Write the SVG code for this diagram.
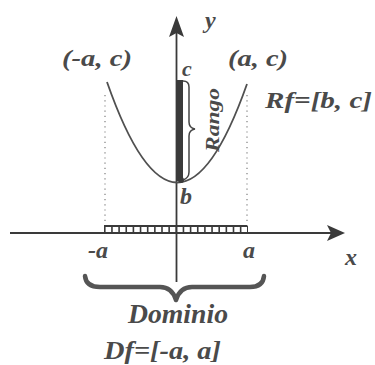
<svg xmlns="http://www.w3.org/2000/svg" width="375" height="365" viewBox="0 0 375 365">
<style>
.t{font-family:"Liberation Serif","Times New Roman",serif;font-style:italic;font-weight:bold;fill:#4a4a4a}
.ax{stroke:#3a3a3a;stroke-width:1.8;fill:none}
.dot{stroke:#888;stroke-width:1.3;stroke-dasharray:1.2 4;fill:none}
</style>
<rect width="375" height="365" fill="#ffffff"/>
<g id="connectors">
<line class="ax" x1="10" y1="233" x2="332" y2="233"/>
<polygon points="345,233 327,225 331,233 327,241" fill="#3a3a3a"/>
<line class="ax" x1="176.5" y1="282" x2="176.5" y2="32"/>
<polygon points="176.5,16 169,37 176.5,33 184,37" fill="#3a3a3a"/>
</g>
<g id="guides">
<line class="dot" x1="105" y1="95" x2="105" y2="226"/>
<line class="dot" x1="247" y1="95" x2="247" y2="226"/>
</g>
<g id="parabola">
<path d="M107,82 Q177,282 247,84" fill="none" stroke="#505050" stroke-width="1.8"/>
</g>
<g id="range">
<rect x="177" y="80" width="6" height="101" fill="#3a3a3a"/>
<circle cx="181" cy="180" r="3" fill="#3a3a3a"/>
<path d="M183,81 Q189,81 189,87 L189,122 Q189,128 195,129 Q189,130 189,136 L189,172 Q189,178 183,180" fill="none" stroke="#444" stroke-width="1.5"/>
</g>
<g id="domain">
<line x1="104" y1="226" x2="247" y2="226" stroke="#3a3a3a" stroke-width="2"/>
<line x1="104" y1="229.5" x2="248" y2="229.5" stroke="#3a3a3a" stroke-width="7" stroke-dasharray="1.6 5.55"/>
<path d="M85,276 Q86,287 100,287 L160,287 Q172,287 176,300 Q180,287 192,287 L250,287 Q263,287 264,276" fill="none" stroke="#555" stroke-width="4.5" stroke-linecap="round" stroke-linejoin="round"/>
</g>
<g id="labels">
<text class="t" x="205" y="28" font-size="24">y</text>
<text class="t" x="62" y="66" font-size="24" textLength="70" lengthAdjust="spacingAndGlyphs">(-a, c)</text>
<text class="t" x="228" y="66" font-size="24" textLength="60" lengthAdjust="spacingAndGlyphs">(a, c)</text>
<text class="t" x="182" y="76" font-size="22">c</text>
<text class="t" x="265" y="108" font-size="24" textLength="107" lengthAdjust="spacingAndGlyphs">Rf=[b, c]</text>
<text class="t" transform="translate(219,120) rotate(-90)" text-anchor="middle" font-size="19" textLength="64" lengthAdjust="spacingAndGlyphs">Rango</text>
<text class="t" x="180" y="204" font-size="24">b</text>
<text class="t" x="88" y="258" font-size="24">-a</text>
<text class="t" x="243" y="258" font-size="24">a</text>
<text class="t" x="345" y="265" font-size="24">x</text>
<text class="t" x="128" y="323" font-size="27" textLength="100" lengthAdjust="spacingAndGlyphs">Dominio</text>
<text class="t" x="104" y="359" font-size="26" textLength="117" lengthAdjust="spacingAndGlyphs">Df=[-a, a]</text>
</g>
</svg>
